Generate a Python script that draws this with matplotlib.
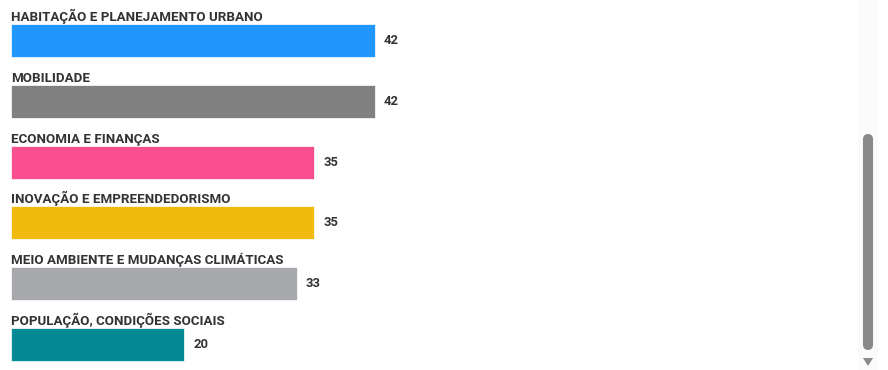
import matplotlib
matplotlib.use("Agg")
import matplotlib.pyplot as plt
from matplotlib.patches import FancyBboxPatch, Polygon, Rectangle

# data
categories = [
    "HABITAÇÃO E PLANEJAMENTO URBANO",
    "MOBILIDADE",
    "ECONOMIA E FINANÇAS",
    "INOVAÇÃO E EMPREENDEDORISMO",
    "MEIO AMBIENTE E MUDANÇAS CLIMÁTICAS",
    "POPULAÇÃO, CONDIÇÕES SOCIAIS",
]
values = [42, 42, 35, 35, 33, 20]
colors = ["#2196FF", "#808080", "#F94F8E", "#F2B90F", "#A7A9AC", "#048A95"]

plt.rcParams["font.family"] = ["Roboto", "DejaVu Sans"]
text_color = "#333333"

W, H = 888, 370
fig = plt.figure(figsize=(W / 100, H / 100), dpi=100)

# axes placed so that 0 sits at x=11px and 42 at x=375px
xmax = 100
px_per_unit = (375 - 11) / 42
ax = fig.add_axes([11 / W, 0, xmax * px_per_unit / W, 1])
step = 60.8
ax.set_xlim(0, xmax)
ax.set_ylim(5 + 25.5 / step, -40.5 / step)
ax.axis("off")

bar_h = 33 / step
ypos = list(range(len(categories)))
bars = ax.barh(ypos, values, height=bar_h, color=colors, edgecolor="white", linewidth=0.5)

for y, cat, val in zip(ypos, categories, values):
    ax.text(0, y - bar_h / 2 - 3 / step, cat, ha="left", va="baseline",
            fontsize=9.6, fontweight="bold", color=text_color)
    ax.annotate(str(val), xy=(val, y), xytext=(6.5, 0), textcoords="offset points",
                ha="left", va="center", fontsize=9.4, fontweight="bold", color=text_color)

# scrollbar on the right edge
fig.patches.append(Rectangle((858 / W, 0), 20 / W, 1, transform=fig.transFigure,
                             facecolor="#fafafa", edgecolor="none"))
fig.patches.append(FancyBboxPatch((863 / W, (H - 350) / H), 10 / W, 216 / H,
                                  boxstyle="round,pad=0,rounding_size=0.006",
                                  transform=fig.transFigure, facecolor="#888888",
                                  edgecolor="none", mutation_aspect=W / H))
fig.patches.append(Polygon([(863 / W, (H - 358) / H), (873 / W, (H - 358) / H),
                            (868 / W, (H - 366) / H)], closed=True,
                           transform=fig.transFigure, facecolor="#888888", edgecolor="none"))

fig.savefig("out.png", dpi=100)
